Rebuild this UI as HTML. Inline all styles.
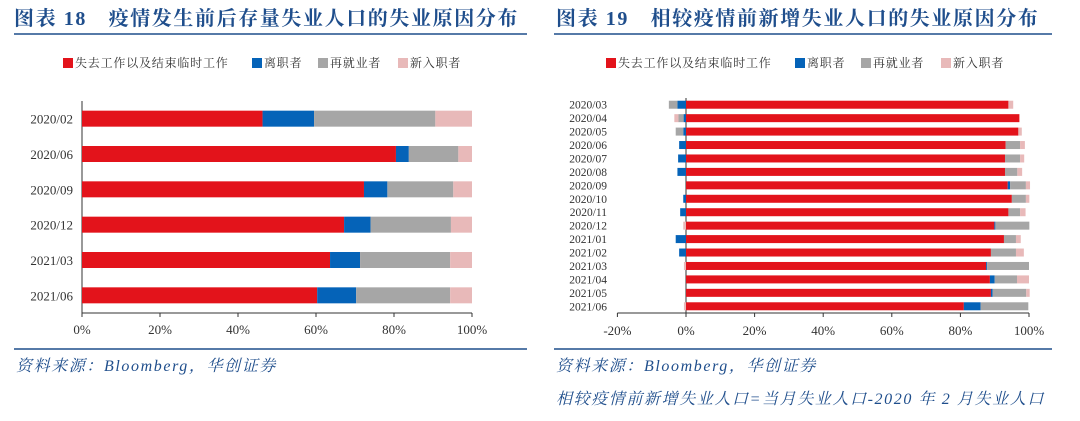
<!DOCTYPE html>
<html><head><meta charset="utf-8">
<style>
body{margin:0;width:1080px;height:421px;background:#fff;overflow:hidden}
svg{display:block}
.ttl{font-family:"Liberation Serif","Noto Serif CJK SC",serif;font-weight:bold;font-size:20px;fill:#1f4e8c;letter-spacing:1.6px}
.lg{font-family:"Liberation Serif","Noto Serif CJK SC",serif;font-size:12px;fill:#333;letter-spacing:0.8px}
.tk{font-family:"Liberation Serif","Noto Serif CJK SC",serif;font-size:13px;fill:#333}
.tk2{font-family:"Liberation Serif","Noto Serif CJK SC",serif;font-size:11.5px;fill:#333}
.ft{font-family:"Liberation Serif","Noto Serif CJK SC",serif;font-style:italic;font-size:16px;fill:#1f4e8c;letter-spacing:1.6px}
</style></head>
<body>
<svg id="s" width="1080" height="421">
<text class="ttl" x="14" y="25">图表 18　疫情发生前后存量失业人口的失业原因分布</text>
<line x1="14" y1="34" x2="527" y2="34" stroke="#1f4e8c" stroke-width="1.5"/>
<text class="ttl" x="556" y="25">图表 19　相较疫情前新增失业人口的失业原因分布</text>
<line x1="554" y1="34" x2="1052" y2="34" stroke="#1f4e8c" stroke-width="1.5"/>
<line x1="14" y1="349" x2="527" y2="349" stroke="#1f4e8c" stroke-width="1.5"/>
<line x1="554" y1="349" x2="1052" y2="349" stroke="#1f4e8c" stroke-width="1.5"/>
<text class="ft" x="16" y="371">资料来源：Bloomberg，华创证券</text>
<text class="ft" x="556" y="371">资料来源：Bloomberg，华创证券</text>
<text class="ft" x="556" y="404">相较疫情前新增失业人口=当月失业人口-2020 年 2 月失业人口</text>
</svg>
<script>
const seriesNames=["失去工作以及结束临时工作","离职者","再就业者","新入职者"];
const colors=["#e3131b","#0563b8","#a6a6a6","#e8b9b9"];
// left chart data (%)
const leftCats=["2020/02","2020/06","2020/09","2020/12","2021/03","2021/06"];
const leftLost=[46.3,80.5,72.3,67.2,63.6,60.3];
const leftQuit=[13.2,3.3,6.0,6.8,7.7,10.0];
const leftReentry=[31.1,12.7,16.9,20.6,23.1,24.1];
const leftNew=[9.4,3.5,4.8,5.4,5.6,5.6];
const leftTicks=["0%","20%","40%","60%","80%","100%"];
const leftTickVals=[0,20,40,60,80,100];
// right chart data (%), positive/negative parts per series
const rightCats=["2020/03","2020/04","2020/05","2020/06","2020/07","2020/08","2020/09","2020/10","2020/11","2020/12","2021/01","2021/02","2021/03","2021/04","2021/05","2021/06"];
const rightLost=[94.0,97.2,96.9,93.2,93.0,93.0,93.8,95.0,94.0,89.9,92.7,88.9,87.5,88.6,88.9,81.0];
const rightQuit=[-2.5,-0.7,-0.8,-2.0,-2.3,-2.5,0.7,-0.8,-1.7,0.3,-3.0,-2.0,0.3,1.4,0.5,4.9];
const rightReentry=[-2.5,-1.5,-2.2,4.2,4.4,3.6,4.6,4.1,3.4,9.9,3.5,7.3,12.2,6.5,9.8,13.9];
const rightNew=[1.4,-1.2,1.0,1.4,1.2,1.4,1.2,1.0,1.6,-0.8,1.4,2.3,-0.6,3.5,1.0,-0.6];
const rightTicks=["-20%","0%","20%","40%","60%","80%","100%"];
const rightTickVals=[-20,0,20,40,60,80,100];

const S=document.getElementById('s');const NS="http://www.w3.org/2000/svg";
function mk(t,a){const e=document.createElementNS(NS,t);for(const k in a)e.setAttribute(k,a[k]);S.appendChild(e);return e;}

function legend(x0,y){
  const offs=[0,189,255,335];
  seriesNames.forEach((n,i)=>{
    const r=mk('rect',{x:x0+offs[i],y:y-5,width:10,height:10,fill:colors[i]});
    
    
    const t=mk('text',{x:x0+offs[i]+12,y:y+4,class:'lg'});t.textContent=n;
    
    
  });
}
legend(63,63);legend(606,63);

// left chart
const lx0=82,lx1=472,lyTop=101,lyBot=313;
const lx=v=>lx0+(lx1-lx0)*v/100;
const lstep=(lyBot-lyTop)/leftCats.length;
const ly=i=>lyTop+lstep*(i+0.5);
const lAx=mk('line',{x1:lx0,y1:lyTop,x2:lx0,y2:lyBot,stroke:'#333'});

const lAx2=mk('line',{x1:lx0,y1:lyBot,x2:lx1,y2:lyBot,stroke:'#333'});

leftTickVals.forEach((v,i)=>{
  mk('line',{x1:lx(v),y1:lyBot,x2:lx(v),y2:lyBot+4,stroke:'#333'});
  const t=mk('text',{x:lx(v),y:lyBot+21,class:'tk','text-anchor':'middle'});t.textContent=leftTicks[i];
  
});
leftCats.forEach((c,i)=>{
  const t=mk('text',{x:lx0-9,y:ly(i)+5,class:'tk','text-anchor':'end'});t.textContent=c;
  
  const vals=[leftLost[i],leftQuit[i],leftReentry[i],leftNew[i]];let acc=0;
  vals.forEach((v,k)=>{
    const r=mk('rect',{x:lx(acc),y:ly(i)-8,width:lx(acc+v)-lx(acc),height:16,fill:colors[k]});
    
    acc+=v;
  });
});

// right chart
const rx=v=>686+(1029-686)*v/100;
const ryTop=98,ryBot=313;
const rstep=(ryBot-ryTop)/rightCats.length;
const ry=i=>ryTop+rstep*(i+0.5);
const rAx=mk('line',{x1:rx(0),y1:ryTop,x2:rx(0),y2:ryBot,stroke:'#333'});

const rAx2=mk('line',{x1:rx(-20),y1:ryBot,x2:rx(100),y2:ryBot,stroke:'#333'});

rightTickVals.forEach((v,i)=>{
  mk('line',{x1:rx(v),y1:ryBot,x2:rx(v),y2:ryBot+4,stroke:'#333'});
  const t=mk('text',{x:rx(v),y:ryBot+22,class:'tk','text-anchor':'middle'});t.textContent=rightTicks[i];
  
});
rightCats.forEach((c,i)=>{
  const t=mk('text',{x:607,y:ry(i)+4,class:'tk2','text-anchor':'end'});t.textContent=c;
  
  const vals=[rightLost[i],rightQuit[i],rightReentry[i],rightNew[i]];let pos=0,neg=0;
  vals.forEach((v,k)=>{
    let a,b;
    if(v>=0){a=pos;b=pos+v;pos=b;}else{a=neg+v;b=neg;neg=a;}
    const r=mk('rect',{x:rx(a),y:ry(i)-4,width:rx(b)-rx(a),height:8,fill:colors[k]});
    
  });
});
</script>
</body></html>
